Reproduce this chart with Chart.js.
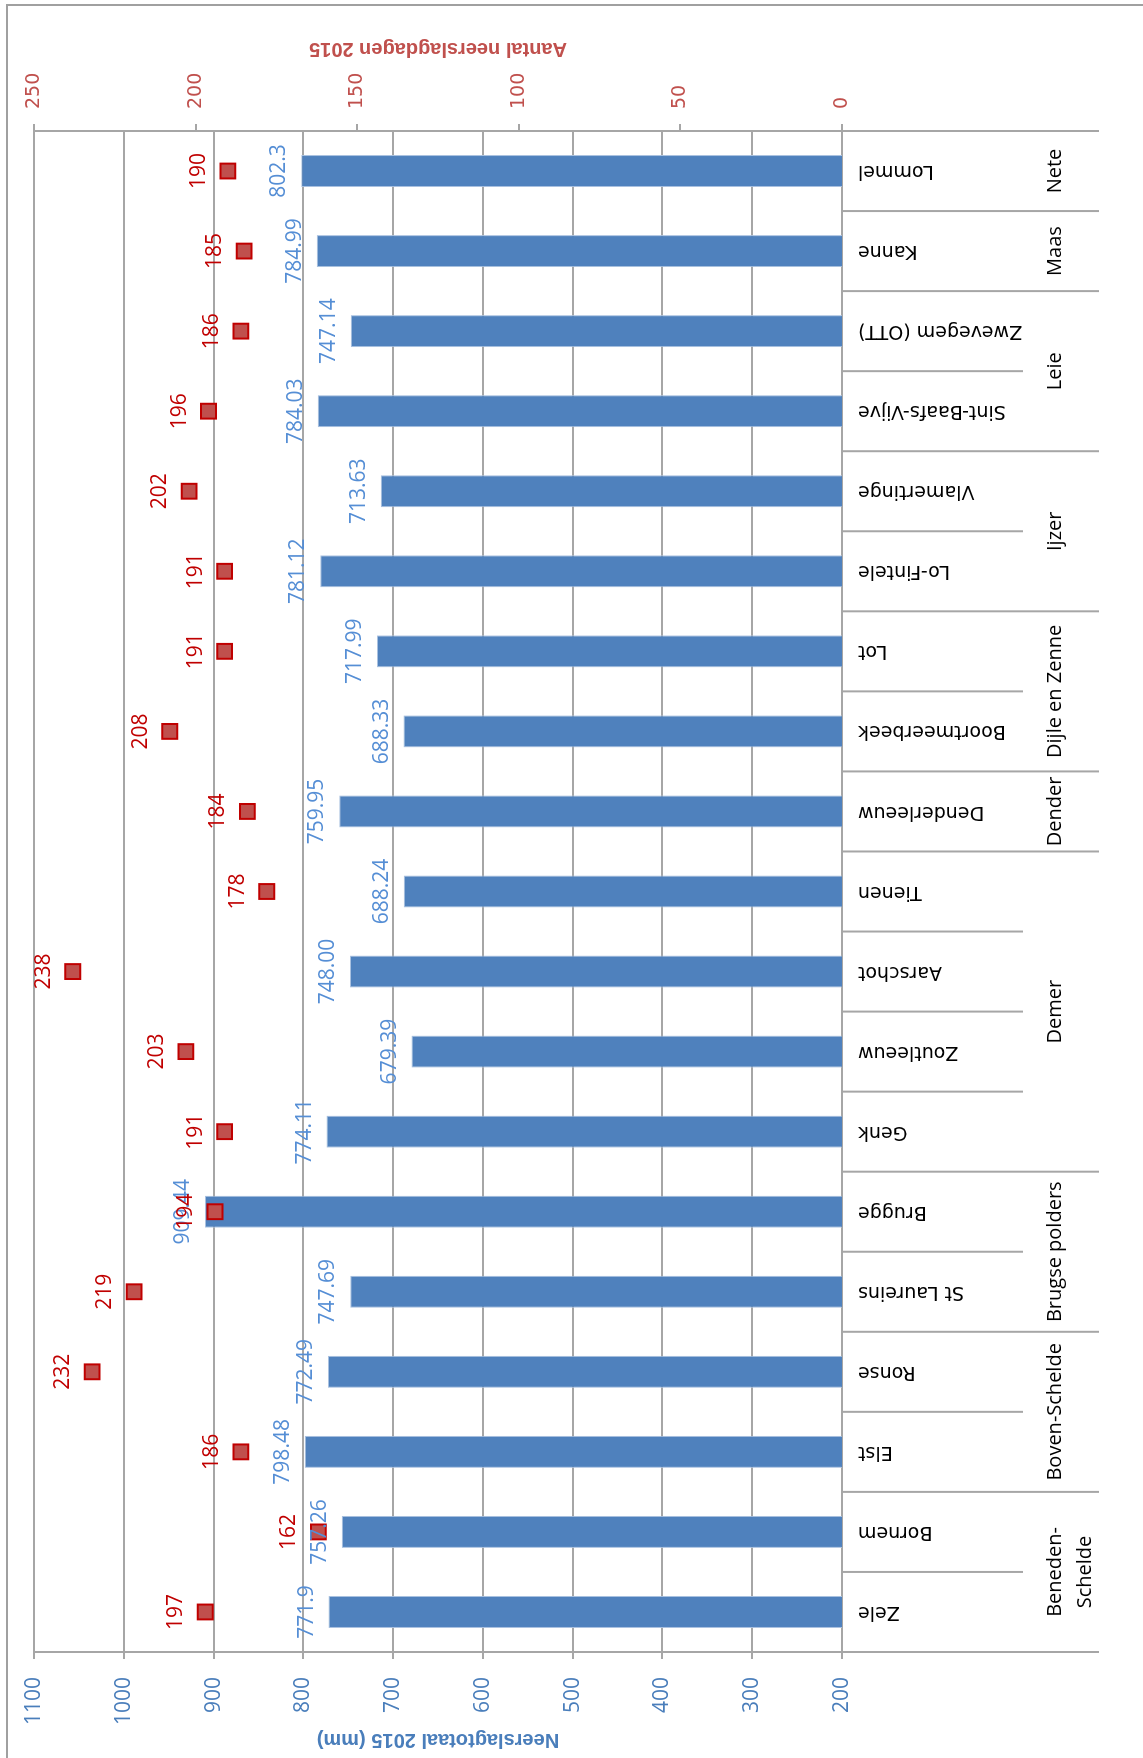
<!DOCTYPE html>
<html>
<head>
<meta charset="utf-8">
<script src="https://cdn.jsdelivr.net/npm/chart.js@4.4.1/dist/chart.umd.min.js"></script>
<style>
  html, body { margin: 0; padding: 0; background: #fff; overflow: hidden; }
  body { width: 1143px; height: 1758px; position: relative; }
  /* grafiek wordt liggend getekend en dan gedraaid */
  #wrap { position: absolute; left: 0; top: 0; width: 1758px; height: 1143px;
          transform-origin: 0 0; transform: translateY(1758px) rotate(-90deg); }
</style>
</head>
<body>
<div id="wrap"><canvas id="neerslag" width="1758" height="1143"></canvas></div>
<script>
// meetstations (links -> rechts in de liggende grafiek)
const stations = ['Zele', 'Bornem', 'Elst', 'Ronse', 'St Laureins', 'Brugge', 'Genk', 'Zoutleeuw',
  'Aarschot', 'Tienen', 'Denderleeuw', 'Boortmeerbeek', 'Lot', 'Lo-Fintele', 'Vlamertinge',
  'Sint-Baafs-Vijve', 'Zwevegem (OTT)', 'Kanne', 'Lommel'];
// neerslagtotaal 2015 (mm)
const totals = [771.9, 757.26, 798.48, 772.49, 747.69, 909.44, 774.11, 679.39, 748.00, 688.24,
  759.95, 688.33, 717.99, 781.12, 713.63, 784.03, 747.14, 784.99, 802.3];
// aantal neerslagdagen 2015
const days = [197, 162, 186, 232, 219, 194, 191, 203, 238, 178, 184, 208, 191, 191, 202, 196, 186, 185, 190];
// bekkens en aantal stations per bekken
const basins = [['Beneden-', 'Schelde'], ['Boven-Schelde'], ['Brugse polders'], ['Demer'], ['Dender'],
  ['Dijle en Zenne'], ['Ijzer'], ['Leie'], ['Maas'], ['Nete']];
const basinSizes = [2, 2, 2, 4, 1, 2, 2, 2, 1, 1];

const blauw = '#4a7ebb';
const rood = '#c0504d';
const grijs = '#a6a6a6';

function fmt(v) {
  return Number.isInteger(v) ? v.toFixed(2) : String(v);
}

// kader rond de grafiek
const kader = {
  id: 'kader',
  beforeDraw(chart) {
    const ctx = chart.ctx;
    ctx.save();
    ctx.fillStyle = '#fff';
    ctx.fillRect(0, 0, chart.width, chart.height);
    ctx.strokeStyle = '#a0a0a0';
    ctx.lineWidth = 2;
    ctx.strokeRect(-5, 7, 1758, 1200);
    ctx.restore();
  }
};

// waarden bij balken en punten
const waardes = {
  id: 'waardes',
  afterDatasetsDraw(chart) {
    const ctx = chart.ctx;
    ctx.save();
    ctx.textAlign = 'center';
    ctx.textBaseline = 'alphabetic';
    ctx.font = '21px "Open Sans"';
    ctx.fillStyle = '#558ed5';
    chart.getDatasetMeta(0).data.forEach((b, i) => ctx.fillText(fmt(totals[i]), b.x, b.y - 16));
    ctx.fillStyle = '#c00000';
    chart.getDatasetMeta(1).data.forEach((p, i) => ctx.fillText(String(days[i]), p.x, p.y - 23));
    ctx.restore();
  }
};

// scheidingslijnen, bekkennamen en titel rechter as
const bekkens = {
  id: 'bekkens',
  afterDraw(chart) {
    const ctx = chart.ctx;
    const area = chart.chartArea;
    const step = (area.right - area.left) / stations.length;
    const grens = new Set([0]);
    let n = 0;
    basinSizes.forEach(s => { n += s; grens.add(n); });
    ctx.save();
    ctx.strokeStyle = grijs;
    ctx.lineWidth = 2;
    for (let i = 0; i <= stations.length; i++) {
      const x = area.left + i * step;
      ctx.beginPath();
      ctx.moveTo(x, area.bottom);
      ctx.lineTo(x, grens.has(i) ? 1099 : 1023);
      ctx.stroke();
    }
    ctx.fillStyle = '#000';
    ctx.font = '20px "Open Sans"';
    ctx.textAlign = 'center';
    ctx.textBaseline = 'middle';
    let start = 0;
    basins.forEach((naam, k) => {
      const mid = area.left + (start + basinSizes[k] / 2) * step;
      naam.forEach((regel, r) => ctx.fillText(regel, mid, 1055 + r * 30));
      start += basinSizes[k];
    });
    // titel van de rechter as
    ctx.translate(1709, (area.top + area.bottom) / 2);
    ctx.rotate(-Math.PI / 2);
    ctx.fillStyle = rood;
    ctx.font = 'bold 20px "Liberation Sans"';
    ctx.fillText('Aantal neerslagdagen 2015', 0, 0);
    ctx.restore();
  }
};

new Chart(document.getElementById('neerslag'), {
  type: 'bar',
  data: {
    labels: stations,
    datasets: [{
      type: 'bar',
      label: 'Neerslagtotaal 2015 (mm)',
      data: totals,
      yAxisID: 'y',
      backgroundColor: '#4f81bd',
      borderColor: '#a9c1e0',
      borderWidth: 1,
      barPercentage: 0.4,
      categoryPercentage: 1,
      order: 2
    }, {
      type: 'line',
      label: 'Aantal neerslagdagen 2015',
      data: days,
      yAxisID: 'y1',
      showLine: false,
      pointStyle: 'rect',
      pointRadius: 10.5,
      backgroundColor: rood,
      borderColor: '#c00000',
      borderWidth: 2,
      order: 1
    }]
  },
  options: {
    responsive: false,
    animation: false,
    layout: { padding: { top: 34, left: 0, right: 0, bottom: 0 } },
    plugins: { legend: { display: false }, tooltip: { enabled: false } },
    scales: {
      x: {
        position: 'bottom',
        grid: { display: false, drawTicks: false },
        border: { display: false },
        ticks: {
          autoSkip: false, minRotation: 90, maxRotation: 90, padding: 16,
          color: '#000', font: { family: 'DejaVu Sans', size: 19 }
        },
        afterFit(s) { s.height = 301; }
      },
      y: {
        position: 'left',
        min: 200, max: 1100,
        grid: { color: grijs, lineWidth: 2, tickLength: 7 },
        border: { color: grijs, width: 2 },
        ticks: {
          stepSize: 100, padding: 18, color: blauw, font: { family: 'Open Sans', size: 21 },
          callback: v => String(v)
        },
        title: {
          display: true, text: 'Neerslagtotaal 2015 (mm)', color: blauw,
          font: { family: 'Liberation Sans', size: 20, weight: 'bold' }, padding: { top: 6, bottom: 0 }
        },
        afterFit(s) { s.width = 106; }
      },
      y1: {
        position: 'right',
        min: 0, max: 250,
        grid: { drawOnChartArea: false, color: grijs, lineWidth: 2, tickLength: 7 },
        border: { color: grijs, width: 2 },
        ticks: {
          stepSize: 50, padding: 15, color: rood, font: { family: 'DejaVu Sans', size: 19 },
          callback: v => String(v)
        },
        afterFit(s) { s.width = 131; }
      }
    }
  },
  plugins: [kader, waardes, bekkens]
});
</script>
</body>
</html>
